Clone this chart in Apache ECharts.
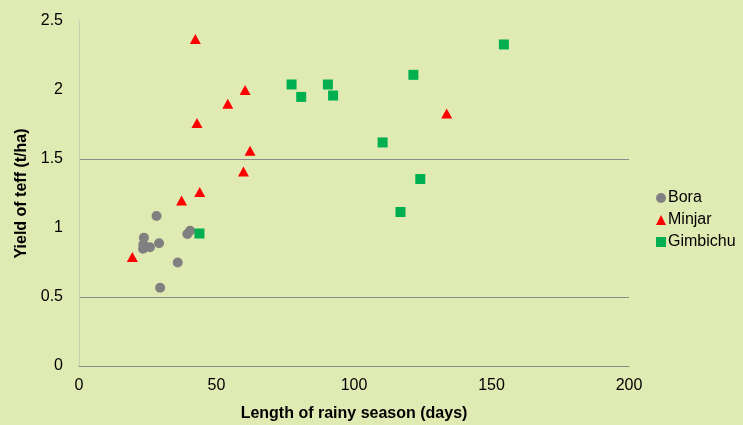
<!DOCTYPE html>
<html>
<head>
<meta charset="utf-8">
<script src="https://cdn.jsdelivr.net/npm/echarts@6/dist/echarts.min.js"></script>
<style>
html,body{margin:0;padding:0;background:#e0ebb4;}
#c{width:743px;height:425px;}
</style>
</head>
<body>
<div id="c"></div>
<script>
const seriesNames = ['Bora', 'Minjar', 'Gimbichu'];
const bora = [
  [28.2, 1.087], [23.6, 0.93], [23.4, 0.88], [23.3, 0.85], [25.8, 0.86],
  [29.1, 0.89], [39.4, 0.957], [40.4, 0.98], [35.9, 0.75], [29.5, 0.567]
];
const minjar = [
  [42.3, 2.37], [60.4, 2.0], [54.1, 1.90], [42.9, 1.76], [62.2, 1.56],
  [59.8, 1.41], [43.9, 1.26], [37.3, 1.20], [19.4, 0.79], [133.7, 1.83]
];
const gimbichu = [
  [154.5, 2.33], [121.6, 2.11], [77.3, 2.04], [90.5, 2.04], [80.8, 1.95],
  [92.4, 1.96], [110.4, 1.62], [124.1, 1.355], [116.9, 1.116], [43.8, 0.96]
];
const xTitle = 'Length of rainy season (days)';
const yTitle = 'Yield of teff (t/ha)';

const chart = echarts.init(document.getElementById('c'));
const font = 'Liberation Sans, Arial, sans-serif';
chart.setOption({
  backgroundColor: '#e0ebb4',
  animation: false,
  textStyle: {fontFamily: font},
  grid: {left: 79, right: 114, top: 21, bottom: 59, containLabel: false, outerBoundsMode: 'none'},
  legend: {
    orient: 'vertical',
    left: 651, top: 185,
    itemGap: 6,
    itemWidth: 10, itemHeight: 10,
    textStyle: {fontSize: 16, lineHeight: 16, color: '#000', fontFamily: font, padding: [0, 0, 0, -3]},
    data: [
      {name: seriesNames[0], icon: 'circle'},
      {name: seriesNames[1], icon: 'triangle'},
      {name: seriesNames[2], icon: 'rect'}
    ]
  },
  xAxis: {
    type: 'value', min: 0, max: 200, interval: 50,
    name: xTitle, nameLocation: 'middle', nameGap: 40,
    nameTextStyle: {fontSize: 16, fontWeight: 'bold', color: '#000', fontFamily: font},
    axisLine: {show: true, lineStyle: {color: '#8c8c8c', width: 1}},
    axisTick: {show: false},
    axisLabel: {fontSize: 16, color: '#000', margin: 12, fontFamily: font},
    splitLine: {show: false}
  },
  yAxis: {
    type: 'value', min: 0, max: 2.5, interval: 0.5,
    name: yTitle, nameLocation: 'middle', nameGap: 42, nameRotate: 90,
    nameTextStyle: {fontSize: 16, fontWeight: 'bold', color: '#000', fontFamily: font},
    axisLine: {show: true, lineStyle: {color: '#c9cfb4', width: 1}},
    axisTick: {show: false},
    axisLabel: {fontSize: 16, color: '#000', margin: 16, fontFamily: font},
    splitLine: {show: true, lineStyle: {
      color: ['rgba(0,0,0,0)', '#8c8c8c', 'rgba(0,0,0,0)', '#8c8c8c', 'rgba(0,0,0,0)', 'rgba(0,0,0,0)'],
      width: 1
    }}
  },
  series: [
    {name: seriesNames[0], type: 'scatter', symbol: 'circle', symbolSize: 10,
     itemStyle: {color: '#808080', opacity: 1}, data: bora, z: 3},
    {name: seriesNames[1], type: 'scatter', symbol: 'triangle', symbolSize: [11, 10],
     itemStyle: {color: '#ff0000', opacity: 1}, data: minjar, z: 4},
    {name: seriesNames[2], type: 'scatter', symbol: 'rect', symbolSize: 10,
     itemStyle: {color: '#00b050', opacity: 1}, data: gimbichu, z: 5}
  ]
});
</script>
</body>
</html>
